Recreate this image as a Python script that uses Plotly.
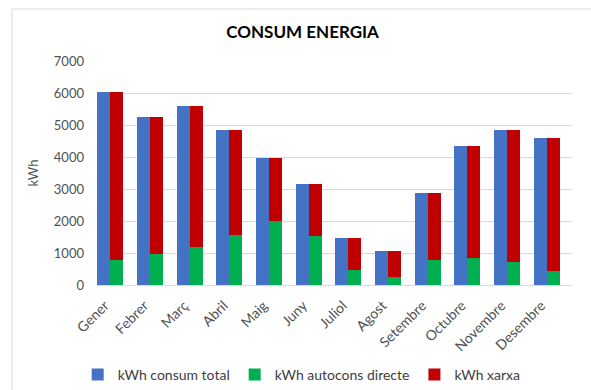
import plotly.graph_objects as go

# Monthly energy figures (kWh)
months = ["Gener", "Febrer", "Març", "Abril", "Maig", "Juny", "Juliol",
          "Agost", "Setembre", "Octubre", "Novembre", "Desembre"]
consum_total = [6020, 5240, 5590, 4830, 3980, 3170, 1470, 1070, 2880, 4350, 4850, 4580]
autocons_directe = [770, 960, 1180, 1560, 1990, 1540, 480, 240, 790, 850, 710, 450]
xarxa = [t - a for t, a in zip(consum_total, autocons_directe)]

y_ticks = [0, 1000, 2000, 3000, 4000, 5000, 6000, 7000]

idx = list(range(len(months)))
bar_w = 0.33
x_total = [i - bar_w for i in idx]
x_split = [i for i in idx]

FONT = "Lato"
TXT = "#505050"

# plot area in pixels (used to place the chart-area frame)
PL, PR, PT, PB = 97, 573, 61, 285
pw, ph = PR - PL, PB - PT

fig = go.Figure()
fig.add_trace(go.Bar(x=x_total, y=consum_total, width=bar_w, offset=-bar_w / 2,
                     name="kWh consum total", marker_color="#4472C4",
                     marker_line_width=0))
fig.add_trace(go.Bar(x=x_split, y=autocons_directe, width=bar_w, offset=-bar_w / 2,
                     name="kWh autocons directe", marker_color="#00B050",
                     marker_line_width=0))
fig.add_trace(go.Bar(x=x_split, y=xarxa, width=bar_w, offset=-bar_w / 2,
                     name="kWh xarxa", marker_color="#C00000",
                     marker_line_width=0))

# light frame around the chart area
fig.add_shape(type="rect", xref="paper", yref="paper",
              x0=(12 - PL) / pw, x1=(600 - PL) / pw,
              y0=(PB - 400) / ph, y1=(PB - 9) / ph,
              line=dict(color="#D9D9D9", width=1), fillcolor="rgba(0,0,0,0)",
              layer="below")

fig.update_layout(
    width=591, height=390,
    barmode="stack",
    paper_bgcolor="white", plot_bgcolor="white",
    margin=dict(l=PL, r=591 - PR, t=PT, b=390 - PB, autoexpand=False),
    title=dict(text="<b>CONSUM ENERGIA</b>", x=0.512, xanchor="center",
               y=1 - 32 / 390, yanchor="middle",
               font=dict(family=FONT, size=17, color="#000000")),
    font=dict(family=FONT, size=13, color=TXT),
    showlegend=True,
    legend=dict(orientation="h", x=0.43, xanchor="center",
                y=-(375 - PB) / ph, yanchor="middle",
                font=dict(family=FONT, size=14, color="#404040"),
                itemwidth=30, traceorder="normal"),
    bargap=0,
)
fig.update_xaxes(range=[-0.5, len(months) - 0.5], tickmode="array",
                 tickvals=idx, ticktext=months, tickangle=-45,
                 automargin=False,
                 ticklabelshift=-12, ticklabelstandoff=6,
                 showgrid=False, showline=True, linecolor="#D9D9D9",
                 linewidth=1, ticks="", zeroline=False,
                 tickfont=dict(family=FONT, size=14, color=TXT))
fig.update_yaxes(range=[0, 7000], tickmode="array", tickvals=y_ticks,
                 automargin=False, ticklabelstandoff=12,
                 showgrid=True, gridcolor="#D9D9D9", gridwidth=1,
                 zeroline=False, showline=False, ticks="",
                 title=dict(text="kWh", font=dict(family=FONT, size=13, color=TXT),
                            standoff=12),
                 tickfont=dict(family=FONT, size=13, color=TXT))

fig.write_html("out.html")
